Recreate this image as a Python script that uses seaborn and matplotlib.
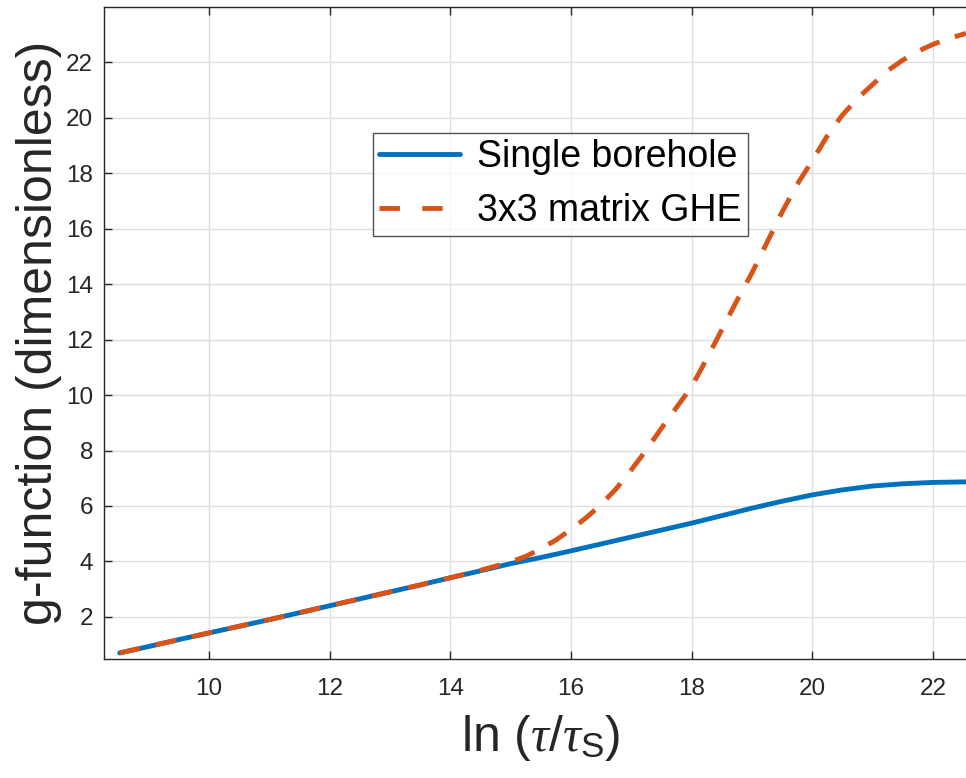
import numpy as np
import pandas as pd
import seaborn as sns
import matplotlib
matplotlib.use("Agg")
import matplotlib.pyplot as plt

# Data
x_single = [8.52, 9.0, 9.5, 10.0, 10.5, 11.0, 11.5, 12.0, 12.5, 13.0, 13.5, 14.0, 14.5, 15.0,
            15.5, 16.0, 16.5, 17.0, 17.5, 18.0, 18.5, 19.0, 19.5, 20.0, 20.5, 21.0, 21.5, 22.0, 22.55]
g_single = [0.70, 0.93, 1.18, 1.42, 1.66, 1.90, 2.15, 2.40, 2.65, 2.90, 3.15, 3.41, 3.66, 3.92,
            4.14, 4.38, 4.63, 4.88, 5.13, 5.38, 5.65, 5.92, 6.17, 6.40, 6.58, 6.72, 6.80, 6.85, 6.87]

x_matrix = [8.52, 9.0, 9.5, 10.0, 10.5, 11.0, 11.5, 12.0, 12.5, 13.0, 13.5, 14.0, 14.5, 15.0,
            15.25, 15.5, 15.75, 16.0, 16.25, 16.5, 16.75, 17.0, 17.25, 17.5, 17.75, 18.0,
            18.25, 18.5, 18.75, 19.0, 19.25, 19.5, 19.75, 20.0, 20.25, 20.5, 20.75, 21.0,
            21.25, 21.5, 21.75, 22.0, 22.25, 22.55]
g_matrix = [0.70, 0.93, 1.18, 1.42, 1.66, 1.90, 2.15, 2.40, 2.65, 2.90, 3.15, 3.41, 3.68, 3.98,
            4.18, 4.45, 4.77, 5.15, 5.57, 6.05, 6.62, 7.30, 8.02, 8.80, 9.55, 10.30,
            11.30, 12.35, 13.40, 14.40, 15.50, 16.60, 17.60, 18.45, 19.35, 20.10, 20.70, 21.20,
            21.70, 22.08, 22.40, 22.65, 22.85, 23.05]

labels = ["Single borehole", "3x3 matrix GHE"]
xticks = [10, 12, 14, 16, 18, 20, 22]
yticks = [2, 4, 6, 8, 10, 12, 14, 16, 18, 20, 22]

sns.set_theme(style="white")
plt.rcParams['font.family'] = ['Liberation Sans', 'DejaVu Sans']
plt.rcParams['mathtext.fontset'] = 'custom'
plt.rcParams['mathtext.rm'] = 'Liberation Sans'
plt.rcParams['mathtext.it'] = 'Liberation Serif:italic'

W, H = 966, 778
fig = plt.figure(figsize=(W / 100, H / 100), dpi=100)
ax = fig.add_axes([104 / W, 1 - 659 / H, (966 - 104) / W, (659 - 7) / H])

df1 = pd.DataFrame({"x": x_single, "g": g_single})
df2 = pd.DataFrame({"x": x_matrix, "g": g_matrix})

sns.lineplot(data=df1, x="x", y="g", ax=ax, color="#0072BD", linewidth=3.5,
             label=labels[0], zorder=3)
sns.lineplot(data=df2, x="x", y="g", ax=ax, color="#D95319", linewidth=3.5,
             label=labels[1], zorder=4)
ax.lines[1].set_dashes([4.3, 3.3])
ax.lines[1].set_dash_capstyle("butt")

ax.set_xlim(8.26, 22.55)
ax.set_ylim(0.48, 24.0)
ax.set_xticks(xticks)
ax.set_yticks(yticks)
ax.grid(True, color="#dedede", linewidth=1.0)
ax.set_axisbelow(True)

for s in ["left", "bottom", "top"]:
    ax.spines[s].set_color("#262626")
    ax.spines[s].set_linewidth(1.0)
ax.spines["right"].set_visible(False)

ax.tick_params(axis="both", direction="in", length=6, width=1.0, color="#262626",
               labelsize=17.5, labelcolor="#262626", top=True, bottom=True, left=True)
ax.tick_params(axis="x", pad=14)
ax.tick_params(axis="y", pad=8)

ax.set_xlabel(r"ln ($\tau$/$\tau_{\rm S}$)", fontsize=36, color="#262626")
ax.set_ylabel("g-function (dimensionless)", fontsize=36, color="#262626")
ax.xaxis.set_label_coords(0.506, -0.083)
ax.yaxis.set_label_coords(-0.049, 0.50)

leg = ax.legend(loc="upper left", bbox_to_anchor=(0.312, 0.807), borderaxespad=0,
                fontsize=27, frameon=True, fancybox=False, handlelength=2.15,
                handletextpad=0.45, borderpad=0.17, labelspacing=0.48)
leg.get_frame().set_edgecolor("#262626")
leg.get_frame().set_linewidth(1.0)
for t in leg.get_texts():
    t.set_color("black")
leg_lines = leg.get_lines()
leg_lines[1].set_linestyle((0, (4.2, 4.6)))
leg_lines[1].set_dash_capstyle("butt")

fig.savefig("out.png", dpi=100)
